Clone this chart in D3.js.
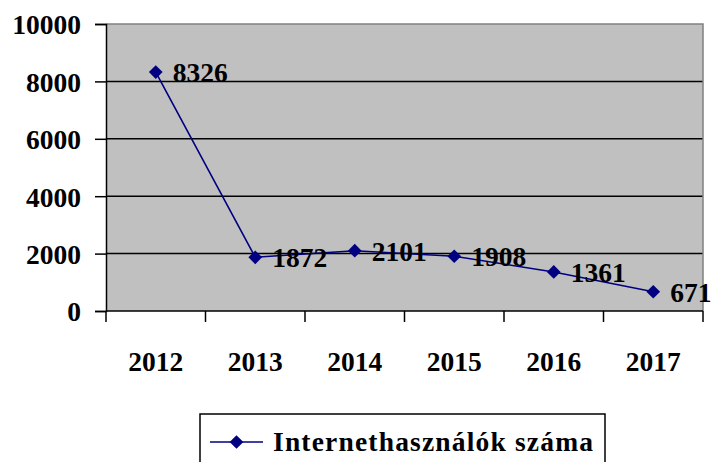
<!DOCTYPE html>
<html>
<head>
<meta charset="utf-8">
<script src="https://cdn.jsdelivr.net/npm/d3@7/dist/d3.min.js"></script>
<style>
  html, body { margin: 0; padding: 0; background: #fff; }
  svg { display: block; }
  text { font-family: "Liberation Serif", "DejaVu Serif", serif; font-weight: bold; fill: #000; }
</style>
</head>
<body>
<svg id="chart" width="711" height="462"></svg>
<script>
const years = ["2012", "2013", "2014", "2015", "2016", "2017"];
const users = [8326, 1872, 2101, 1908, 1361, 671];
const yTicks = [0, 2000, 4000, 6000, 8000, 10000];
const seriesName = "Internethasználók száma";

const svg = d3.select("#chart");
const plot = { left: 106, right: 703, top: 24, bottom: 311 };
const fontSize = 27.5;
const navy = "#000080";

const x = d3.scaleBand().domain(years).range([plot.left, plot.right]);
const y = d3.scaleLinear().domain([0, 10000]).range([plot.bottom, plot.top]);

// plot background
svg.append("rect")
  .attr("x", plot.left).attr("y", plot.top)
  .attr("width", plot.right - plot.left).attr("height", plot.bottom - plot.top)
  .attr("fill", "#c0c0c0");

// horizontal gridlines
svg.append("g").selectAll("line")
  .data(yTicks.filter(d => d > 0 && d < 10000))
  .join("line")
  .attr("x1", plot.left).attr("x2", plot.right)
  .attr("y1", d => y(d)).attr("y2", d => y(d))
  .attr("stroke", "#000").attr("stroke-width", 1.5);

// top and right frame
svg.append("path")
  .attr("d", `M${plot.left},${plot.top}H${plot.right}V${plot.bottom}`)
  .attr("fill", "none").attr("stroke", "#808080").attr("stroke-width", 1.5);

// y axis
const yAxis = svg.append("g")
  .attr("transform", `translate(${plot.left},0)`)
  .call(d3.axisLeft(y).tickValues(yTicks).tickSize(11).tickPadding(14).tickFormat(d3.format("d")));
yAxis.attr("font-family", null).attr("font-size", null);
yAxis.select(".domain").attr("stroke", "#000").attr("stroke-width", 1.5);
yAxis.selectAll(".tick line").attr("stroke", "#000").attr("stroke-width", 1.5);
yAxis.selectAll("text")
  .style("font-size", fontSize + "px").attr("dy", "0.36em");

// x axis: ticks sit at category boundaries
const xAxisG = svg.append("g").attr("transform", `translate(0,${plot.bottom})`);
xAxisG.append("line")
  .attr("x1", plot.left).attr("x2", plot.right)
  .attr("stroke", "#000").attr("stroke-width", 1.5);
const boundaries = years.map(d => x(d)).concat([x(years[years.length - 1]) + x.bandwidth()]);
xAxisG.selectAll("line.tick")
  .data(boundaries)
  .join("line").attr("class", "tick")
  .attr("x1", d => d).attr("x2", d => d)
  .attr("y1", 0).attr("y2", 11)
  .attr("stroke", "#000").attr("stroke-width", 1.5);
xAxisG.selectAll("text")
  .data(years)
  .join("text")
  .attr("x", d => x(d) + x.bandwidth() / 2)
  .attr("y", 60)
  .attr("text-anchor", "middle")
  .style("font-size", fontSize + "px")
  .text(d => d);

// series line
const pts = years.map((d, i) => ({ year: d, value: users[i] }));
const cx = d => x(d.year) + x.bandwidth() / 2;
svg.append("path")
  .datum(pts)
  .attr("fill", "none")
  .attr("stroke", navy)
  .attr("stroke-width", 1.6)
  .attr("d", d3.line().x(cx).y(d => y(d.value)));

const diamond = d3.symbol().type(d3.symbolDiamond2).size(120);
svg.append("g").selectAll("path")
  .data(pts)
  .join("path")
  .attr("transform", d => `translate(${cx(d)},${y(d.value)})`)
  .attr("d", diamond)
  .attr("fill", navy);

// value labels
svg.append("g").selectAll("text")
  .data(pts)
  .join("text")
  .attr("x", d => cx(d) + 17)
  .attr("y", d => y(d.value) + 10)
  .style("font-size", fontSize + "px")
  .text(d => d.value);

// legend
const legend = svg.append("g");
legend.append("rect")
  .attr("x", 200).attr("y", 414).attr("width", 405).attr("height", 60)
  .attr("fill", "#fff").attr("stroke", "#000").attr("stroke-width", 1.5);
legend.append("line")
  .attr("x1", 210).attr("x2", 263).attr("y1", 442).attr("y2", 442)
  .attr("stroke", navy).attr("stroke-width", 1.6);
legend.append("path")
  .attr("transform", "translate(236.5,442)")
  .attr("d", diamond)
  .attr("fill", navy);
legend.append("text")
  .attr("x", 273).attr("y", 451)
  .attr("textLength", 320).attr("lengthAdjust", "spacing")
  .style("font-size", fontSize + "px")
  .text(seriesName);
</script>
</body>
</html>
